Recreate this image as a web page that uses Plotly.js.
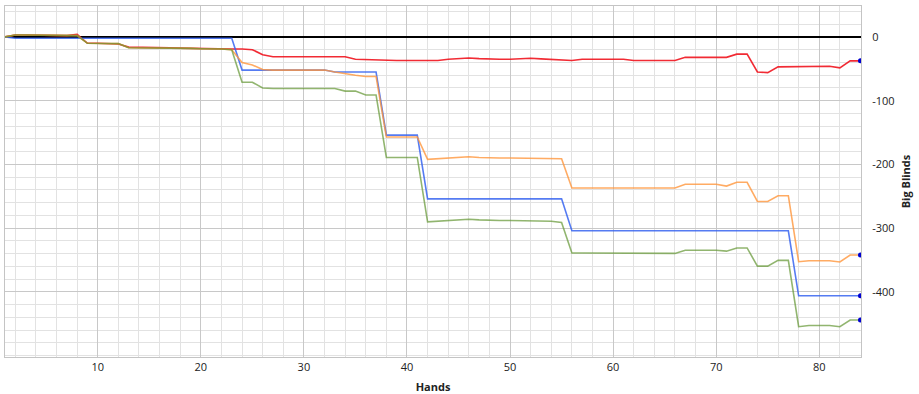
<!DOCTYPE html>
<html>
<head>
<meta charset="utf-8">
<script src="https://cdn.plot.ly/plotly-3.0.1.min.js"></script>
<style>
html,body{margin:0;padding:0;background:#fff;}
#chart{width:919px;height:394px;}
</style>
</head>
<body>
<div id="chart"></div>
<script>
// Hands 1..84
const hands = Array.from({length: 84}, (_, i) => i + 1);

const redBB = [
  0, 3, 3, 3, 2.5, 2, 2, 4, -10, -10,
  -10, -11, -16, -16, -16.5, -17, -17, -17.5, -18, -18,
  -18.5, -19, -19, -19, -20, -28, -31, -31, -31, -31,
  -31, -31, -31, -31, -35, -35.5, -37, -37, -37, -37,
  -37, -37, -37, -35, -34, -33, -34, -35, -35, -35,
  -34.5, -33.5, -34.5, -35.5, -36.5, -37, -35, -35, -35, -35,
  -35, -37, -37, -37, -37, -37, -32, -32, -32, -32,
  -32, -27, -27, -55, -56, -47, -47, -46.5, -46, -46,
  -46, -48.5, -37.5, -37.5
];

const orangeBB = [
  0, 3, 3, 3, 2.5, 2, 2, 2, -10, -10,
  -10, -10.5, -17, -17, -17, -17.5, -17.5, -18, -18, -18.5,
  -18.5, -19, -20, -40, -44, -51, -52, -52, -52, -52,
  -52, -52, -55, -58, -60, -62, -62, -157, -157, -157,
  -157, -192, -191, -190, -189, -188, -189, -190, -190, -190,
  -190, -190, -190, -190, -191, -237, -237, -237, -237, -237,
  -237, -237, -237, -237, -237, -237, -231, -231, -231, -231,
  -234, -228, -228, -258, -258, -249, -249, -352.5, -351, -351,
  -351, -353, -342, -342
];

const blueBB = [
  0, -2, -2, -2, -2, -2, -2, -2, -2, -2,
  -2, -2, -2, -2, -2, -2, -2, -2, -2, -2,
  -2, -2, -2, -52, -52, -52, -52, -52, -52, -52,
  -52, -52, -55, -55, -55, -55, -55, -154, -154, -154,
  -154, -254, -254, -254, -254, -254, -254, -254, -254, -254,
  -254, -254, -254, -254, -254, -304, -304, -304, -304, -304,
  -304, -304, -304, -304, -304, -304, -304, -304, -304, -304,
  -304, -304, -304, -304, -304, -304, -304, -406, -406, -406,
  -406, -406, -406, -406
];

const greenBB = [
  0, 3, 3, 3, 2.5, 2, 2, 2, -10, -10,
  -10, -10.5, -17, -17, -17, -17.5, -17.5, -18, -18, -18.5,
  -18.5, -19, -20, -71, -71, -80, -81, -81, -81, -81,
  -81, -81, -81, -85, -85, -91, -91, -189, -189, -189,
  -189, -290, -289, -288, -287, -286, -287, -288, -288, -288,
  -288, -288, -288, -289, -291, -339, -339, -339, -339, -339,
  -339, -339, -340, -340, -340, -339.5, -334.5, -334.5, -334.5, -334.5,
  -336, -331, -331, -359.5, -359.5, -350.5, -350.5, -454.5, -452.5, -452.5,
  -452.5, -454.5, -444, -444
];

const xTickVals = [10, 20, 30, 40, 50, 60, 70, 80];
const yTickVals = [0, -100, -200, -300, -400];

function series(y, color) {
  return {
    x: hands, y: y, type: 'scatter', mode: 'lines',
    line: {color: color, width: 1.6, shape: 'linear'},
    hoverinfo: 'skip', showlegend: false
  };
}
function endDot(y) {
  const n = y.length - 1;
  return {
    x: [hands[n]], y: [y[n]], type: 'scatter', mode: 'markers',
    marker: {color: '#0000d0', size: 5},
    hoverinfo: 'skip', showlegend: false
  };
}

const data = [
  series(redBB, 'rgba(240,20,30,0.9)'),
  series(blueBB, 'rgba(55,100,240,0.85)'),
  series(orangeBB, 'rgba(255,150,60,0.8)'),
  series(greenBB, 'rgba(98,150,50,0.7)'),
  endDot(redBB), endDot(orangeBB), endDot(blueBB), endDot(greenBB)
];

const tickFont = {family: 'Open Sans, Noto Sans, sans-serif', size: 11, color: '#222'};

const layout = {
  width: 919, height: 394,
  margin: {l: 5, r: 58, t: 6, b: 37, pad: 0},
  paper_bgcolor: '#ffffff', plot_bgcolor: '#ffffff',
  xaxis: {
    range: [1, 84.05], tickvals: xTickVals, ticktext: xTickVals.map(String),
    showgrid: true, gridcolor: '#c8c8c8', gridwidth: 1,
    minor: {dtick: 2, tick0: 0, showgrid: true, gridcolor: '#e2e2e2', gridwidth: 1},
    zeroline: false, showline: true, linecolor: '#c4c4c4', linewidth: 1, mirror: true,
    ticks: '', tickfont: tickFont, ticklabelstandoff: 0,
    title: {text: '<b>Hands</b>', font: {family: 'Open Sans, Noto Sans, sans-serif', size: 11, color: '#222'}, standoff: 26},
    automargin: false
  },
  yaxis: {
    side: 'right', range: [-502, 48.5], tickvals: yTickVals, ticktext: yTickVals.map(String),
    showgrid: true, gridcolor: '#c8c8c8', gridwidth: 1,
    minor: {dtick: 20, tick0: 0, showgrid: true, gridcolor: '#e2e2e2', gridwidth: 1},
    zeroline: true, zerolinecolor: '#000000', zerolinewidth: 2.5,
    showline: true, linecolor: '#c4c4c4', linewidth: 1, mirror: true,
    ticks: '', tickfont: tickFont, ticklabelstandoff: 8,
    title: {text: '<b>Big Blinds</b>', font: {family: 'Open Sans, Noto Sans, sans-serif', size: 11, color: '#222'}, standoff: 8},
    automargin: false
  }
};

Plotly.newPlot('chart', data, layout, {staticPlot: true, displayModeBar: false});
</script>
</body>
</html>
